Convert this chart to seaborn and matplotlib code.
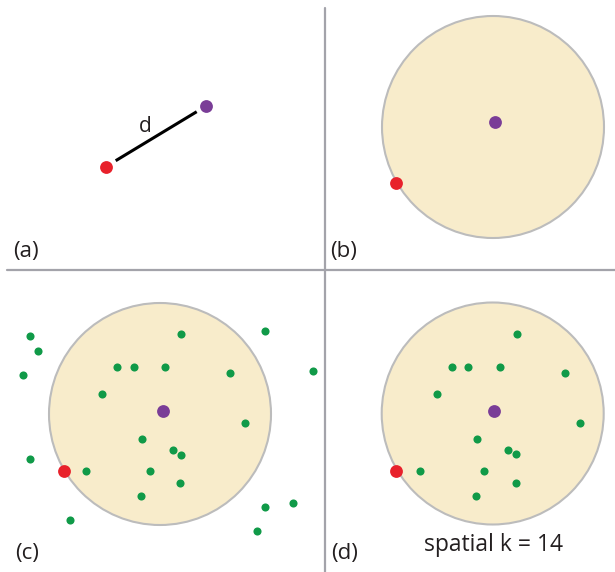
import numpy as np
import pandas as pd
import matplotlib
matplotlib.use("Agg")
import matplotlib.pyplot as plt
from matplotlib.patches import Circle
import seaborn as sns

# all coordinates are in image pixels (origin top-left)
RED = "#e8212b"
PURPLE = "#7a3d97"
GREEN = "#109a48"
FILL = "#f8eccb"
EDGE = "#bcbcbc"
SEP = "#a3a3aa"
TXT = "#231f20"

# panel (a): the two points joined by d
a_red = (105.7, 166.7)
a_purple = (205.7, 106.0)
a_line_x = [115.7, 196.7]
a_line_y = [160.7, 111.7]

# panel (b)
b_center = (493.0, 127.0)
b_radius = 111.0
b_red = (395.7, 182.7)
b_purple = (494.7, 122.3)

# panel (c)
c_center = (160.0, 414.0)
c_radius = 111.0
c_red = (64.0, 471.3)
c_purple = (162.7, 411.3)
c_green_x = [30.0, 37.7, 22.7, 181.3, 265.0, 117.3, 133.7, 164.7, 230.0, 312.7,
             102.3, 245.0, 142.0, 173.0, 181.3, 29.7, 85.7, 149.7, 180.3, 140.7,
             293.0, 265.0, 69.7, 257.3]
c_green_y = [335.7, 350.7, 375.0, 334.3, 330.7, 367.0, 367.0, 367.0, 372.7, 371.3,
             394.3, 423.3, 439.0, 450.3, 455.0, 458.7, 471.3, 470.7, 483.0, 495.7,
             503.3, 507.3, 520.0, 531.3]

# panel (d): only the neighbours inside the circle
d_center = (492.7, 413.5)
d_radius = 111.0
d_red = (395.7, 471.3)
d_purple = (494.3, 411.0)
d_green_x = [516.7, 452.3, 468.3, 500.0, 565.3, 437.3, 580.0, 477.0, 508.0, 515.7,
             420.3, 484.3, 515.7, 475.7]
d_green_y = [334.3, 367.0, 367.0, 367.0, 372.7, 394.3, 423.3, 439.0, 450.3, 454.0,
             471.3, 470.7, 483.0, 495.7]

panel_labels = ["(a)", "(b)", "(c)", "(d)"]
label_x = [26.0, 344.0, 27.0, 345.0]
label_y = [252.0, 251.0, 553.0, 553.0]

sns.set_style("white")
plt.rcParams["font.family"] = ["Open Sans", "DejaVu Sans"]

fig = plt.figure(figsize=(6.15, 5.72), dpi=100)
ax = fig.add_axes([0, 0, 1, 1])
ax.set_xlim(0, 615)
ax.set_ylim(572, 0)
ax.axis("off")

# separators
ax.plot([325, 325], [8, 572], color=SEP, lw=1.6, zorder=1)
ax.plot([7, 615], [269.5, 269.5], color=SEP, lw=1.6, zorder=1)

# circles
for center, r in [(b_center, b_radius), (c_center, c_radius), (d_center, d_radius)]:
    ax.add_patch(Circle(center, r, facecolor=FILL, edgecolor=EDGE, lw=1.5, zorder=2))

# panel (a) line and label
ax.plot(a_line_x, a_line_y, color="black", lw=2.2, solid_capstyle="butt", zorder=3)
ax.text(145, 126, "d", fontsize=15, ha="center", va="center", color=TXT)

# green neighbours
green = pd.DataFrame({
    "x": c_green_x + d_green_x,
    "y": c_green_y + d_green_y,
})
sns.scatterplot(data=green, x="x", y="y", ax=ax, color=GREEN, s=34,
                linewidth=0, zorder=4, legend=False)

# red and purple points
reds = pd.DataFrame([a_red, b_red, c_red, d_red], columns=["x", "y"])
purples = pd.DataFrame([a_purple, b_purple, c_purple, d_purple], columns=["x", "y"])
sns.scatterplot(data=reds, x="x", y="y", ax=ax, color=RED, s=85,
                linewidth=0, zorder=5, legend=False)
sns.scatterplot(data=purples, x="x", y="y", ax=ax, color=PURPLE, s=85,
                linewidth=0, zorder=5, legend=False)
ax.set_xlim(0, 615)
ax.set_ylim(572, 0)

for lab, lx, ly in zip(panel_labels, label_x, label_y):
    ax.text(lx, ly, lab, fontsize=16, ha="center", va="center", color=TXT)

ax.text(494, 545, "spatial k = 14", fontsize=16.5, ha="center", va="center", color=TXT)

fig.savefig("out.png", dpi=100)
